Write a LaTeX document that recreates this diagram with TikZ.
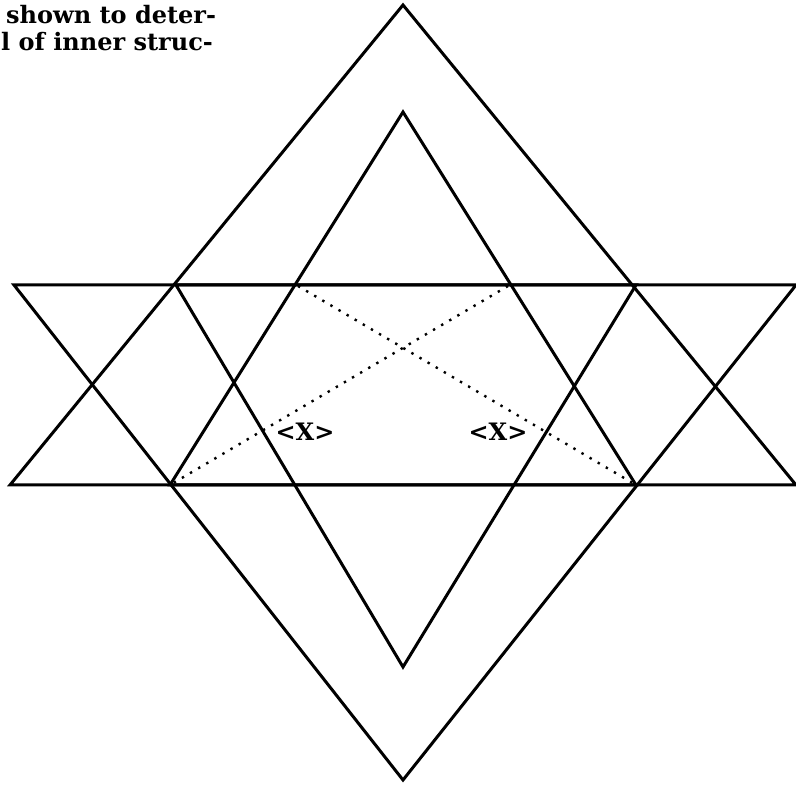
\documentclass[tikz,border=0pt]{standalone}
\usepackage{fontspec}
\setmainfont{DejaVu Serif}
\begin{document}
\begin{tikzpicture}[x=1pt,y=-1pt,
  edge/.style={line width=3pt,line join=miter},
  dotline/.style={line width=2.4pt,dash pattern=on 2.4pt off 7pt},
  lbl/.style={font=\bfseries\fontsize{24}{24}\selectfont,inner sep=0pt},
  txt/.style={font=\bfseries\fontsize{24}{24}\selectfont,inner sep=0pt,anchor=base west}]
\useasboundingbox (0,0) rectangle (796,786);
\clip (0,0) rectangle (796,786);
% vertices
\coordinate (OT) at (403,5);
\coordinate (OB) at (403,780);
\coordinate (IT) at (403,112);
\coordinate (IB) at (403,667);
\coordinate (TL) at (14,285);
\coordinate (TR) at (796,285);
\coordinate (BL) at (10,485);
\coordinate (BR) at (796,485);
\coordinate (ITL) at (176,285);
\coordinate (ITR) at (636,285);
\coordinate (IBL) at (170,485);
\coordinate (IBR) at (636,485);
\coordinate (DA) at (298,286);
\coordinate (DB) at (508,286);
% outer star
\draw[edge] (OT) -- (BL) -- (BR) -- cycle;
\draw[edge] (OB) -- (TL) -- (TR) -- cycle;
% inner star
\draw[edge] (IT) -- (IBL) -- (IBR) -- cycle;
\draw[edge] (IB) -- (ITL) -- (ITR) -- cycle;
% dotted diagonals
\draw[dotline] (DA) -- (IBR);
\draw[dotline] (DB) -- (IBL);
% labels
\node[lbl] (x1) at (305,432) {\textless X\textgreater};
\node[lbl] (x2) at (498,432) {\textless X\textgreater};
% text
\node[txt] (t1) at (6,24) {shown to deter-};
\node[txt] (t2) at (1,51) {l of inner struc-};
\end{tikzpicture}
\end{document}
